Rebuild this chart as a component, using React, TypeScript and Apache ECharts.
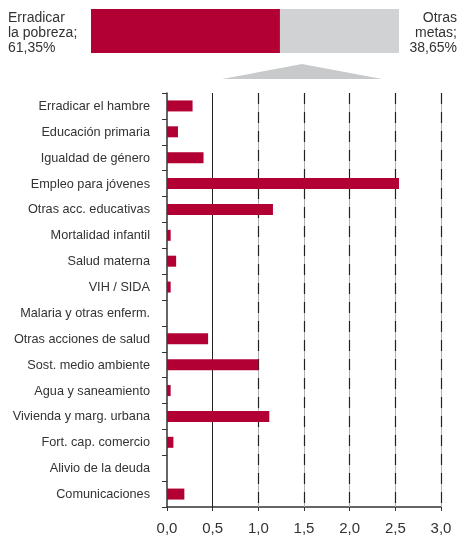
import React, { useEffect, useRef } from "react";
import * as echarts from "echarts";

const categories = [
  "Erradicar el hambre",
  "Educación primaria",
  "Igualdad de género",
  "Empleo para jóvenes",
  "Otras acc. educativas",
  "Mortalidad infantil",
  "Salud materna",
  "VIH / SIDA",
  "Malaria y otras enferm.",
  "Otras acciones de salud",
  "Sost. medio ambiente",
  "Agua y saneamiento",
  "Vivienda y marg. urbana",
  "Fort. cap. comercio",
  "Alivio de la deuda",
  "Comunicaciones",
];
const values = [0.28, 0.12, 0.4, 2.54, 1.16, 0.04, 0.1, 0.04, 0, 0.45, 1.0, 0.04, 1.12, 0.07, 0, 0.19];
const shareValues = [61.35, 38.65];
const shareLabels = ["Erradicar\nla pobreza;\n61,35%", "Otras\nmetas;\n38,65%"];
const gridTicks = [0.5, 1.0, 1.5, 2.0, 2.5, 3.0];

const RED = "#b20034";
const GRAY = "#d1d2d4";
const FONT = "Liberation Sans, Arial, sans-serif";

export default function App() {
  const ref = useRef<HTMLDivElement>(null);
  useEffect(() => {
    if (!ref.current) return;
    const chart = echarts.init(ref.current, undefined, { renderer: "svg" });
    const markData: any[] = [];
    gridTicks.forEach((t, i) => {
      if (i === 0) {
        markData.push({ xAxis: t, lineStyle: { color: "#222", width: 1, type: "solid" } });
      } else {
        markData.push({ xAxis: t, lineStyle: { color: "#b0b0b0", width: 1, type: "solid" } });
        markData.push({ xAxis: t, lineStyle: { color: "#222", width: 1.2, type: [11, 8] } });
      }
    });
    chart.setOption({
      animation: false,
      textStyle: { fontFamily: FONT },
      grid: [
        { left: 167, right: 18, top: 93, bottom: 29 },
        { left: 91, top: 9, width: 308, height: 44 },
      ],
      xAxis: [
        {
          gridIndex: 0,
          type: "value",
          min: 0,
          max: 3,
          interval: 0.5,
          axisLine: { show: true, lineStyle: { color: "#333", width: 1.5 } },
          axisTick: { show: true, length: 4, lineStyle: { color: "#333" } },
          splitLine: { show: false },
          axisLabel: {
            fontSize: 15,
            color: "#333",
            margin: 13,
            fontFamily: FONT,
            formatter: (v: number) => v.toFixed(1).replace(".", ","),
          },
        },
        {
          gridIndex: 1,
          type: "value",
          min: 0,
          max: 100,
          show: false,
        },
      ],
      yAxis: [
        {
          gridIndex: 0,
          type: "category",
          data: categories,
          inverse: true,
          axisLine: { show: true, lineStyle: { color: "#333", width: 1.5 } },
          axisTick: { show: true, length: 5, lineStyle: { color: "#333" } },
          axisLabel: { fontSize: 12.7, color: "#333", margin: 17, fontFamily: FONT },
        },
        {
          gridIndex: 1,
          type: "category",
          data: ["total"],
          show: false,
        },
      ],
      series: [
        {
          type: "bar",
          xAxisIndex: 0,
          yAxisIndex: 0,
          data: values,
          barWidth: 11,
          itemStyle: { color: RED },
          z: 3,
          markLine: {
            silent: true,
            symbol: "none",
            label: { show: false },
            z: 2,
            data: markData,
          },
        },
        {
          type: "bar",
          xAxisIndex: 1,
          yAxisIndex: 1,
          stack: "s",
          data: [shareValues[0]],
          barWidth: 44,
          itemStyle: { color: RED },
        },
        {
          type: "bar",
          xAxisIndex: 1,
          yAxisIndex: 1,
          stack: "s",
          data: [shareValues[1]],
          barWidth: 44,
          itemStyle: { color: GRAY },
        },
      ],
      graphic: [
        {
          type: "text",
          x: 8,
          y: 9,
          style: {
            text: shareLabels[0],
            fontSize: 14,
            lineHeight: 15,
            fill: "#333",
            fontFamily: FONT,
            align: "left",
            verticalAlign: "top",
          },
        },
        {
          type: "text",
          x: 457,
          y: 9,
          style: {
            text: shareLabels[1],
            fontSize: 14,
            lineHeight: 15,
            fill: "#333",
            fontFamily: FONT,
            align: "right",
            verticalAlign: "top",
          },
        },
        {
          type: "polygon",
          shape: { points: [[222, 79], [302, 64], [382, 79]] },
          style: { fill: "#c8c9cb" },
        },
      ],
    });
    return () => chart.dispose();
  }, []);
  return (
    <div
      ref={ref}
      style={{ position: "fixed", left: 0, top: 0, width: 459, height: 536 }}
    />
  );
}
